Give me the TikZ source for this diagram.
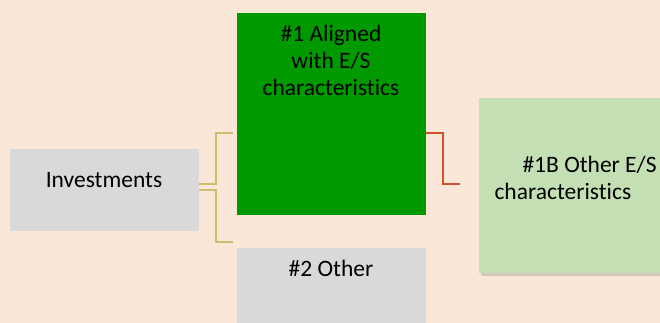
\documentclass[tikz,border=0pt]{standalone}
\usepackage{fontspec}
\setmainfont[Ligatures={NoCommon}]{Carlito}
\usetikzlibrary{shadows}
\definecolor{bg}{HTML}{FBE7D7}
\definecolor{greybox}{HTML}{D9D9D9}
\definecolor{darkgreen}{HTML}{009900}
\definecolor{lightgreen}{HTML}{C5DFB4}
\definecolor{yline}{HTML}{CDBE6E}
\definecolor{rline}{HTML}{D0502F}
\begin{document}
\begin{tikzpicture}[x=1pt,y=-1pt,
  box/.style={inner sep=0pt, outer sep=0pt, anchor=north west},
  lbl/.style={font=\fontsize{23.5}{27}\selectfont, align=center, text=black},
  yconn/.style={draw=yline, line width=1.3pt},
  rconn/.style={draw=rline, line width=1.2pt}]
\fill[bg] (0,0) rectangle (660,323);
\useasboundingbox (0,0) rectangle (660,323);
% boxes
\node[box, fill=greybox, minimum width=189pt, minimum height=82pt] (inv) at (10,149) {};
\node[box, fill=darkgreen, minimum width=189pt, minimum height=202pt] (al) at (237,13) {};
\node[box, fill=greybox, minimum width=189pt, minimum height=80pt] (oth) at (237,248) {};
\node[box, fill=lightgreen, minimum width=190pt, minimum height=175pt,
  drop shadow={shadow xshift=2pt, shadow yshift=-3pt, opacity=0.3}] (es) at (479,98) {};
% texts
\node[lbl] (tinv) at (104,180) {Investments};
\node[lbl] (tal) at (331,60) {\#1 Aligned\\with E/S\\characteristics};
\node[lbl] (toth) at (331,268) {\#2 Other};
\node[lbl, align=left, anchor=west] (tes) at (491,178) {\hspace*{28pt}\#1B Other E/S\\characteristics};
% connectors
\coordinate (a1) at (216,184);
\coordinate (a2) at (216,133);
\coordinate (b1) at (216,190);
\coordinate (b2) at (216,242);
\draw[yconn] (inv.east |- a1) -- (a1) -- (a2) -- ([xshift=-4pt]al.west |- a2);
\draw[yconn] (inv.east |- b1) -- (b1) -- (b2) -- ([xshift=-4pt]oth.west |- b2);
\coordinate (r1) at (443,133);
\coordinate (r2) at (443,184);
\draw[rconn] (al.east |- r1) -- (r1) -- (r2) -- ([xshift=-19pt]es.west |- r2);
\end{tikzpicture}
\end{document}
